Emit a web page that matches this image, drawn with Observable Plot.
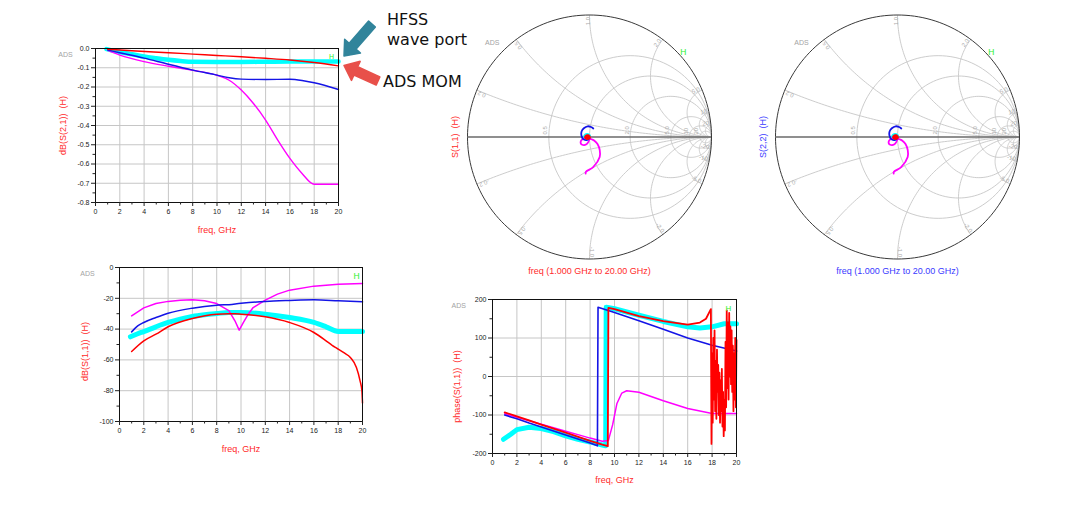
<!DOCTYPE html>
<html><head><meta charset="utf-8">
<script src="https://cdn.jsdelivr.net/npm/d3@7"></script>
<script src="https://cdn.jsdelivr.net/npm/@observablehq/plot@0.6"></script>
<style>
html,body{margin:0;padding:0;background:#fff;}
#root{position:relative;width:1080px;height:527px;overflow:hidden;}
.panel{position:absolute;line-height:0;}
.panel svg{overflow:visible;}
</style></head><body><div id="root"></div>
<script>
// ---------- tick values ----------
const freqTicks = [0, 2, 4, 6, 8, 10, 12, 14, 16, 18, 20];
const freqMinor = [1, 3, 5, 7, 9, 11, 13, 15, 17, 19];
const s21Ticks = [0, -0.1, -0.2, -0.3, -0.4, -0.5, -0.6, -0.7, -0.8];
const s21Minor = [-0.05, -0.15, -0.25, -0.35, -0.45, -0.55, -0.65, -0.75];
const s11Ticks = [0, -20, -40, -60, -80, -100];
const s11Minor = [-10, -30, -50, -70, -90];
const phTicks = [200, 100, 0, -100, -200];
const phMinor = [150, 50, -50, -150];

// ---------- dB(S(2,1)) ----------
const redS21F  = [1, 3, 6, 8, 10, 12, 14, 16, 18, 20];
const redS21   = [-0.004, -0.012, -0.022, -0.029, -0.036, -0.043, -0.051, -0.06, -0.073, -0.09];
const cyanS21F = [0.9, 2, 3, 4, 5, 6, 7, 8, 10, 12, 14, 16, 18, 20];
const cyanS21  = [-0.003, -0.018, -0.03, -0.042, -0.051, -0.059, -0.065, -0.069, -0.07, -0.07, -0.069, -0.068, -0.068, -0.068];
const blueS21F = [1, 2, 4, 6, 8, 10, 11, 12, 14, 16, 17, 18, 20];
const blueS21  = [-0.008, -0.022, -0.05, -0.082, -0.112, -0.138, -0.152, -0.159, -0.161, -0.16, -0.166, -0.178, -0.213];
const pinkS21F = [1, 2, 4, 6, 8, 10, 11, 12, 13, 14, 15, 16, 17, 18, 20];
const pinkS21  = [-0.01, -0.034, -0.068, -0.092, -0.113, -0.139, -0.165, -0.216, -0.286, -0.372, -0.476, -0.571, -0.649, -0.705, -0.705];

// ---------- S(1,1): dB and phase on shared frequencies ----------
const pinkF   = [1, 2, 3, 4, 5, 6, 7, 8, 9, 9.5, 9.85, 10.2, 10.6, 11, 12, 13, 14, 16, 18, 20];
const pinkDb  = [-31.4, -26.2, -23.4, -22, -21.2, -21, -21.6, -23.4, -28, -34.6, -40.7, -35.7, -30.3, -26, -21.2, -17.3, -14.7, -12.1, -10.8, -10.4];
const pinkPh  = [-97, -106, -115, -124, -133, -142, -151, -160, -168, -166, -125, -70, -43, -37, -41, -52, -63, -83, -96, -96];

const blueF   = [1, 1.5, 2, 3, 4, 6, 8, 8.6, 8.65, 10, 12, 14, 16, 18, 20];
const blueDb  = [-41.8, -37.9, -35.7, -32.5, -29.7, -26.4, -24.5, -24.2, -24.2, -23.2, -22, -21.4, -21, -21.6, -22.3];
const bluePh  = [-100, -105, -110, -121, -131, -152, -173, -180, 180, 166, 145, 123, 100, 81, 66];

const cyanF   = [0.9, 1.5, 2, 3, 4, 5, 6, 7, 8, 9, 9.28, 9.32, 10, 12, 14, 16, 17, 18, 19, 20];
const cyanDb  = [-45, -43, -41.6, -38.5, -35.7, -33.5, -31.8, -30.7, -29.9, -29.2, -29.2, -29.2, -29.2, -30.3, -32.5, -35.7, -38.5, -41.6, -41.6, -41.6];
const cyanPh  = [-163, -150, -138, -132, -135, -143, -154, -163, -170, -178, -180, 180, 176, 159, 143, 129, 126, 129, 137, 137];

const redF    = [1, 2, 3, 4, 6, 8, 9, 9.45, 9.5, 10, 12, 14, 16, 17, 17.5, 17.9];
const redDb   = [-54.5, -47.6, -43.3, -38.5, -33.1, -30.3, -30, -30.1, -30.1, -30.3, -32, -35.7, -42.2, -47.6, -50.5, -52.5];
const redPh   = [-93, -103.6, -114, -125, -146, -167, -177, -181, 178, 175, 157, 144, 135, 140, 150, 175];
const redDbTailF = [18, 18.5, 19, 19.5, 19.8, 19.95, 20];
const redDbTail  = [-53, -55.5, -58.4, -65, -73.6, -80, -88];
const redPhTailF = [17.95, 18, 18.05, 18.1, 18.15, 18.2, 18.25, 18.3, 18.35, 18.4, 18.45, 18.5, 18.55, 18.6, 18.65, 18.7, 18.75, 18.8, 18.85, 18.9, 18.95, 19, 19.05, 19.1, 19.15, 19.2, 19.25, 19.3, 19.35, 19.4, 19.45, 19.5, 19.55, 19.6, 19.65, 19.7, 19.75, 19.8, 19.85, 19.9, 19.95, 20];
const redPhTail  = [-175, 60, -120, 100, -60, 120, -90, 40, -110, 70, -40, 30, -100, 10, -120, -10, -90, 20, -130, -40, -155, -60, -140, 90, -80, 172, -30, 140, -60, 165, 0, 130, -20, 120, -40, 80, -90, 60, -60, 100, -80, 95];

// ---------- Smith grid values ----------
const smithR = [0.5, 1, 2, 5, 10, 20];
const smithX = [0.2, 0.5, 1, 2, 5, 10, 20];
const smithRLabelVals = [0.5, 2, 5, 10, 20];
const smithRLabels = ["0.5", "2.0", "5.0", "10", "20"];
const smithXLabels = ["0.2", "0.5", "1.0", "2.0", "5.0", "10", "20"];

// ---------- colours ----------
const C = {red: "#ff0000", blue: "#1414e6", pink: "#ff00ff", cyan: "#00ffff", label: "#ff2a2a", labelBlue: "#3a3aff", grid: "#c6c6c6", ads: "#a3a3a3", h: "#2bef2b"};
const FONT = '"Liberation Sans", Arial, sans-serif';

// ---------- helpers ----------
const rows = (fs, vs) => fs.map((f, i) => ({f, v: vs[i]}));
const gamma = (fs, dbs, phs) => fs.map((f, i) => {
  const m = Math.pow(10, dbs[i] / 20), a = phs[i] * Math.PI / 180;
  return {re: m * Math.cos(a), im: m * Math.sin(a)};
});
const root = document.getElementById("root");
function place(node, left, top) {
  const d = document.createElement("div");
  d.className = "panel"; d.style.left = left + "px"; d.style.top = top + "px";
  d.appendChild(node); root.appendChild(d);
}

function rectPanel(c) {
  const marks = [
    Plot.gridX({ticks: freqTicks, stroke: C.grid, strokeOpacity: 1, strokeWidth: 1}),
    Plot.gridY({ticks: c.yTicks, stroke: C.grid, strokeOpacity: 1, strokeWidth: 1}),
    ...c.series.map(s => Plot.line(s.data, {x: "f", y: "v", stroke: s.color, strokeWidth: s.w, curve: s.curve || "linear"})),
    Plot.frame({stroke: "#111", strokeWidth: 1}),
    Plot.axisX({ticks: freqTicks, tickSize: 4, tickPadding: 2.5, tickFormat: d => String(d), label: null}),
    Plot.axisX({ticks: freqMinor, tickSize: 2.5, tickFormat: () => "", label: null}),
    Plot.axisY({ticks: c.yTicks, tickSize: 4, tickPadding: 2, tickFormat: c.yFmt, label: null}),
    Plot.axisY({ticks: c.yMinor, tickSize: 2.5, tickFormat: () => "", label: null}),
    Plot.text([c.xTitle], {frameAnchor: "bottom", dy: c.xTitleDy, lineAnchor: "middle", fill: C.label, fontSize: 9}),
    Plot.text([c.yTitle], {frameAnchor: "left", dx: c.yTitleDx, dy: c.yTitleDy, textAnchor: "middle", lineAnchor: "middle", rotate: -90, fill: C.label, fontSize: 9}),
    Plot.text(["ADS"], {frameAnchor: "top-left", dx: c.adsDx, dy: c.adsDy, textAnchor: "middle", lineAnchor: "middle", fill: C.ads, fontSize: 7}),
    Plot.text(["H"], {frameAnchor: "top-right", dx: c.hDx, dy: c.hDy, textAnchor: "middle", lineAnchor: "middle", fill: C.h, fontSize: c.hSize})
  ];
  const svg = Plot.plot({
    width: c.width, height: c.height,
    marginLeft: c.ml, marginRight: c.mr, marginTop: c.mt, marginBottom: c.mb,
    x: {domain: [0, 20], axis: null, label: null},
    y: {domain: c.yDomain, axis: null, label: null},
    style: {fontFamily: FONT, fontSize: "7px", background: "transparent", color: "#222"},
    marks
  });
  place(svg, c.left, c.top);
}

function smithPanel(c) {
  const grid = [];
  smithR.forEach((r, k) => {
    const cx = r / (1 + r), rad = 1 / (1 + r);
    for (let a = 0; a <= 360; a += 3) grid.push({id: "r" + k, x: cx + rad * Math.cos(a * Math.PI / 180), y: rad * Math.sin(a * Math.PI / 180)});
  });
  smithX.forEach((xv, k) => {
    const rad = 1 / xv, Px = (xv * xv - 1) / (xv * xv + 1), Py = 2 * xv / (xv * xv + 1);
    let th = Math.atan2(Py - rad, Px - 1) * 180 / Math.PI; if (th < 0) th += 360;
    for (const s of [1, -1]) for (let i = 0; i <= 80; i++) {
      const a = (270 + (th - 270) * i / 80) * Math.PI / 180;
      grid.push({id: "x" + k + s, x: 1 + rad * Math.cos(a), y: s * (rad + rad * Math.sin(a))});
    }
  });
  const unit = [];
  for (let a = 0; a <= 360; a += 2) unit.push({x: Math.cos(a * Math.PI / 180), y: Math.sin(a * Math.PI / 180)});
  const xLab = [];
  smithX.forEach((xv, k) => {
    for (const s of [1, -1]) {
      const Px = (xv * xv - 1) / (xv * xv + 1), Py = s * 2 * xv / (xv * xv + 1);
      const th = Math.atan2(Py, Px) * 180 / Math.PI;
      xLab.push({x: Px * 0.985, y: Py * 0.985, t: (s < 0 ? "-" : "") + smithXLabels[k], rot: -th});
    }
  });
  const rLab = smithRLabelVals.map((r, k) => ({x: (r - 1) / (r + 1) - 0.012, y: 0.02, t: smithRLabels[k]}));
  const marks = [
    Plot.line(grid, {x: "x", y: "y", z: "id", stroke: C.grid, strokeWidth: 0.9}),
    Plot.text(xLab, {x: "x", y: "y", text: "t", rotate: "rot", textAnchor: "end", lineAnchor: "bottom", fill: "#aaa", fontSize: 6}),
    Plot.text(rLab, {x: "x", y: "y", text: "t", rotate: -90, textAnchor: "start", lineAnchor: "bottom", fill: "#aaa", fontSize: 6}),
    Plot.line(unit, {x: "x", y: "y", stroke: "#3a3a3a", strokeWidth: 1}),
    Plot.ruleY([0], {x1: -1, x2: 1, stroke: "#6a6a6a", strokeWidth: 1.6}),
    ...c.traces.map(t => Plot.line(t.data, {x: "re", y: "im", stroke: t.color, strokeWidth: t.w, curve: "catmull-rom", strokeLinecap: "round"})),
    Plot.text([c.yTitle], {frameAnchor: "left", dx: -12, textAnchor: "middle", lineAnchor: "middle", rotate: -90, fill: c.color, fontSize: 9}),
    Plot.text([c.xTitle], {frameAnchor: "bottom", dy: 12.5, lineAnchor: "middle", fill: c.color, fontSize: 9}),
    Plot.text(["ADS"], {frameAnchor: "top-left", dx: c.adsDx, dy: 28.2, textAnchor: "middle", lineAnchor: "middle", fill: C.ads, fontSize: 7}),
    Plot.text(["H"], {frameAnchor: "top-right", dx: -28.3, dy: 37.2, textAnchor: "middle", lineAnchor: "middle", fill: C.h, fontSize: 8.5})
  ];
  const svg = Plot.plot({
    width: 300, height: 275, marginLeft: c.ml, marginRight: c.mr, marginTop: 9.5, marginBottom: 21.5,
    x: {domain: [-1, 1], axis: null}, y: {domain: [-1, 1], axis: null},
    style: {fontFamily: FONT, fontSize: "7px", background: "transparent", color: "#222"},
    marks
  });
  place(svg, c.left, c.top);
}

// ---------- panel 1: dB(S(2,1)) ----------
rectPanel({
  left: 40, top: 30, width: 310, height: 210, ml: 55, mr: 12, mt: 18, mb: 38,
  yDomain: [-0.8, 0], yTicks: s21Ticks, yMinor: s21Minor, yFmt: d => d.toFixed(1),
  xTitle: "freq, GHz", xTitleDy: 28, yTitle: "dB(S(2,1))  (H)", yTitleDx: -32, yTitleDy: 0,
  adsDx: -30, adsDy: 6, hDx: -7, hDy: 8, hSize: 7,
  series: [
    {data: rows(cyanS21F, cyanS21), color: C.cyan, w: 4.5, curve: "monotone-x"},
    {data: rows(pinkS21F, pinkS21), color: C.pink, w: 1.4, curve: "monotone-x"},
    {data: rows(blueS21F, blueS21), color: C.blue, w: 1.4, curve: "monotone-x"},
    {data: rows(redS21F, redS21), color: C.red, w: 1.4, curve: "monotone-x"}
  ]
});

// ---------- panel 2: dB(S(1,1)) ----------
rectPanel({
  left: 60, top: 250, width: 310, height: 210, ml: 59, mr: 8, mt: 17, mb: 39,
  yDomain: [-100, 0], yTicks: s11Ticks, yMinor: s11Minor, yFmt: d => String(d),
  xTitle: "freq, GHz", xTitleDy: 28, yTitle: "dB(S(1,1))  (H)", yTitleDx: -34, yTitleDy: 7,
  adsDx: -32, adsDy: 6, hDx: -6, hDy: 9, hSize: 8.5,
  series: [
    {data: rows(cyanF, cyanDb), color: C.cyan, w: 5, curve: "monotone-x"},
    {data: rows(pinkF, pinkDb), color: C.pink, w: 1.5, curve: "linear"},
    {data: rows(blueF, blueDb), color: C.blue, w: 1.5, curve: "monotone-x"},
    {data: rows(redF.concat(redDbTailF), redDb.concat(redDbTail)), color: C.red, w: 1.5, curve: "monotone-x"}
  ]
});

// ---------- panel 3: phase(S(1,1)) ----------
rectPanel({
  left: 440, top: 285, width: 305, height: 205, ml: 52, mr: 9, mt: 14, mb: 37,
  yDomain: [-200, 200], yTicks: phTicks, yMinor: phMinor, yFmt: d => String(d),
  xTitle: "freq, GHz", xTitleDy: 27, yTitle: "phase(S(1,1))  (H)", yTitleDx: -35, yTitleDy: 10,
  adsDx: -33.7, adsDy: 6.7, hDx: -8, hDy: 9, hSize: 8,
  series: [
    {data: rows(cyanF, cyanPh), color: C.cyan, w: 5},
    {data: rows(pinkF, pinkPh), color: C.pink, w: 1.5},
    {data: rows(blueF, bluePh), color: C.blue, w: 1.6},
    {data: rows(redF.concat(redPhTailF), redPh.concat(redPhTail)), color: C.red, w: 1.8}
  ]
});

// ---------- Smith charts ----------
// S(2,2) of the symmetric structure is drawn with the same reflection data as S(1,1)
const traces = [
  {data: gamma(cyanF, cyanDb, cyanPh), color: C.cyan, w: 4.5},
  {data: gamma(pinkF, pinkDb, pinkPh), color: C.pink, w: 1.8},
  {data: gamma(blueF, blueDb, bluePh), color: C.blue, w: 1.8},
  {data: gamma(redF, redDb, redPh), color: C.red, w: 3}
];
smithPanel({left: 440, top: 5, ml: 27, mr: 29, color: C.label, adsDx: 24.7,
  yTitle: "S(1,1)  (H)", xTitle: "freq (1.000 GHz to 20.00 GHz)", traces});
smithPanel({left: 750, top: 5, ml: 25, mr: 31, color: C.labelBlue, adsDx: 26,
  yTitle: "S(2,2)  (H)", xTitle: "freq (1.000 GHz to 20.00 GHz)", traces});

// ---------- annotations ----------
const notes = [
  {text: "HFSS", x: 387, y: 25},
  {text: "wave port", x: 387, y: 45},
  {text: "ADS MOM", x: 383, y: 87}
];
const arrows = [
  {tail: [372, 24], tip: [344, 56], color: "#31849b"},
  {tail: [378, 81], tip: [344, 65.5], color: "#e8504a"}
];
function blockArrow([tx, ty], [px, py], s, h, L) {
  const len = Math.hypot(px - tx, py - ty), ux = (px - tx) / len, uy = (py - ty) / len, nx = -uy, ny = ux;
  const bx = px - ux * L, by = py - uy * L;
  return [[tx + nx * s / 2, ty + ny * s / 2], [bx + nx * s / 2, by + ny * s / 2], [bx + nx * h / 2, by + ny * h / 2],
    [px, py], [bx - nx * h / 2, by - ny * h / 2], [bx - nx * s / 2, by - ny * s / 2], [tx - nx * s / 2, ty - ny * s / 2]]
    .map(p => p.join(",")).join(" ");
}
const over = d3.create("svg").attr("width", 1080).attr("height", 527)
  .style("position", "absolute").style("left", "0px").style("top", "0px").style("pointer-events", "none");
over.selectAll("polygon").data(arrows).join("polygon")
  .attr("points", d => blockArrow(d.tail, d.tip, 9, 21, 13)).attr("fill", d => d.color)
  .attr("stroke", d => d.color).attr("stroke-width", 1.5).attr("stroke-linejoin", "round");
over.selectAll("text").data(notes).join("text")
  .attr("x", d => d.x).attr("y", d => d.y).text(d => d.text)
  .attr("font-family", '"DejaVu Sans", Verdana, sans-serif').attr("font-size", 16).attr("fill", "#111");
root.appendChild(over.node());
</script>
</body></html>
